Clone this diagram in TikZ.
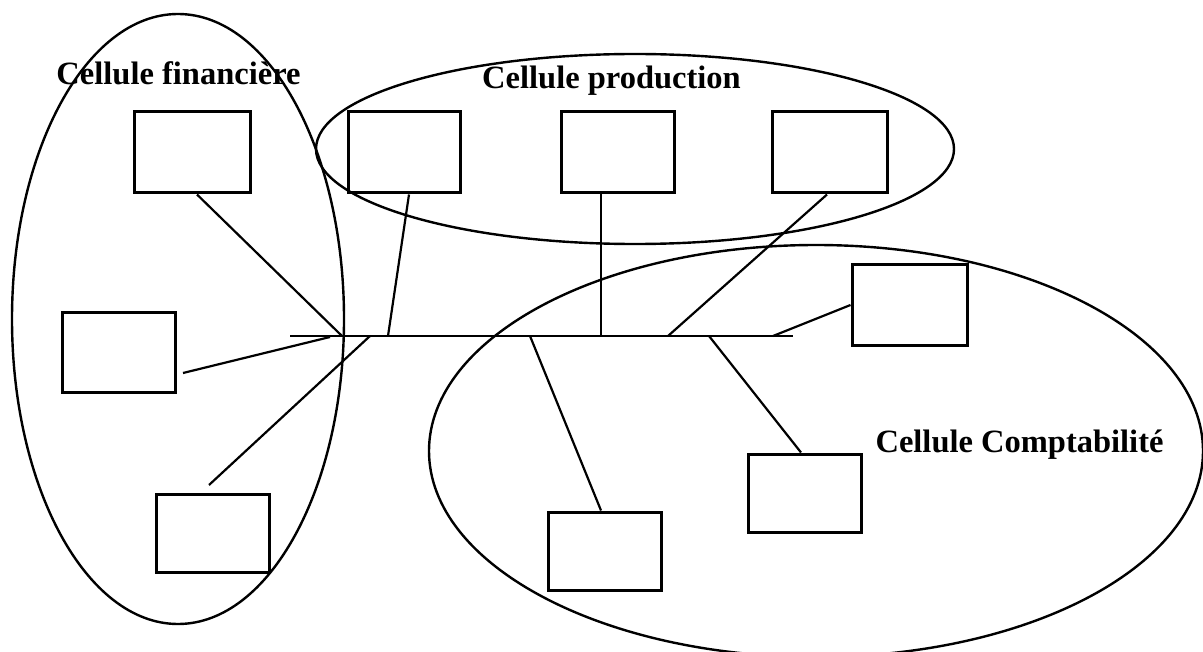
\documentclass[tikz,border=0pt]{standalone}
\usepackage{fontspec}
\setmainfont{Liberation Serif}
\usetikzlibrary{shapes.geometric,fit}
\begin{document}
\begin{tikzpicture}[x=0.5pt,y=-0.5pt,
  box/.style={draw, line width=1.5pt, rectangle, inner sep=0pt},
  cell/.style={draw, line width=1.2pt, ellipse, inner sep=0pt},
  link/.style={line width=1.1pt},
  lbl/.style={font=\bfseries\fontsize{16.25}{19.5}\selectfont, anchor=base, inner sep=0pt}]
\useasboundingbox (0,0) rectangle (1203,652);
% cells (ellipses)
\node[cell, minimum width=166pt, minimum height=305pt] (finance) at (178,319) {};
\node[cell, minimum width=319pt, minimum height=95pt] (prod) at (635,149) {};
\node[cell, minimum width=387pt, minimum height=206pt] (compta) at (816,451) {};
% boxes
\node[box, fit={(134,112) (250,193)}] (F1) {};
\node[box, fit={(62,312) (175,392)}] (F2) {};
\node[box, fit={(156,494) (269,572)}] (F3) {};
\node[box, fit={(348,112) (460,193)}] (P1) {};
\node[box, fit={(561,112) (674,193)}] (P2) {};
\node[box, fit={(772,112) (887,193)}] (P3) {};
\node[box, fit={(852,264) (967,345)}] (C1) {};
\node[box, fit={(748,454) (861,532)}] (C2) {};
\node[box, fit={(548,512) (661,590)}] (C3) {};
% bus
\coordinate (busL) at (290,336);
\coordinate (busR) at (793,336);
\draw[link] (busL) -- (busR);
% junctions on the bus
\coordinate (jF1) at (342,336);
\coordinate (jF2) at (330,337);
\coordinate (jF3) at (370,336);
\coordinate (jP1) at (388,336);
\coordinate (jP2) at (601,336);
\coordinate (jP3) at (668,336);
\coordinate (jC1) at (773,336);
\coordinate (jC2) at (709,336);
\coordinate (jC3) at (530,336);
% free ends near boxes
\coordinate (eF2) at (183,373);
\coordinate (eF3) at (209,485);
% connectors
\draw[link] (197,0 |- F1.south) -- (jF1);
\draw[link] (eF2) -- (jF2);
\draw[link] (eF3) -- (jF3);
\draw[link] (409,0 |- P1.south) -- (jP1);
\draw[link] (601,0 |- P2.south) -- (jP2);
\draw[link] (827,0 |- P3.south) -- (jP3);
\draw[link] (C1.west |- 0,305) -- (jC1);
\draw[link] (jC2) -- (801,0 |- C2.north);
\draw[link] (jC3) -- (601,0 |- C3.north);
% labels
\node[lbl] (lfin) at (178.5,85) {Cellule financière};
\node[lbl] (lprod) at (611.5,89) {Cellule production};
\node[lbl] (lcomp) at (1019.5,452) {Cellule Comptabilité};
\end{tikzpicture}
\end{document}
